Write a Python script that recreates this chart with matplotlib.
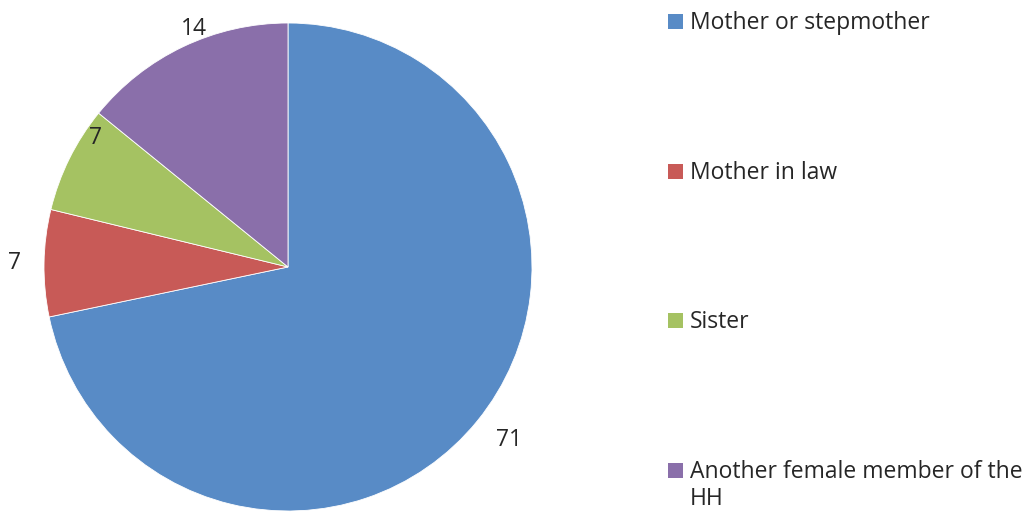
import numpy as np
import matplotlib
matplotlib.use("Agg")
import matplotlib.pyplot as plt
from matplotlib.patches import Rectangle

# data
categories = ["Mother or stepmother", "Mother in law", "Sister",
              "Another female member of the\nHH"]
values = [71, 7, 7, 14]
colors = ["#588BC6", "#C85A57", "#A5C262", "#8A6FAA"]

# Excel "best fit" label placement: radial factor and angle nudge per slice
label_radius = [1.15, 1.12, 0.95, 1.05]
label_nudge = [1.0, 0.0, -7.5, -3.8]

plt.rcParams["font.family"] = ["Open Sans", "DejaVu Sans"]
W, H = 1028, 512
fig = plt.figure(figsize=(W / 100, H / 100), dpi=100)

cx, cy, r = 288, 267, 244
ax = fig.add_axes([(cx - r) / W, (H - cy - r) / H, 2 * r / W, 2 * r / H])
wedges, _ = ax.pie(values, colors=colors, startangle=90, counterclock=False,
                   radius=1.0, wedgeprops=dict(linewidth=0.6, edgecolor="white"))
ax.set_xlim(-1, 1)
ax.set_ylim(-1, 1)
ax.set_aspect("equal")

for w, v, f, d in zip(wedges, values, label_radius, label_nudge):
    ang = np.deg2rad((w.theta1 + w.theta2) / 2 + d)
    ax.text(f * np.cos(ang), f * np.sin(ang), str(v), fontsize=16.5,
            color="#262626", ha="center", va="center")

# legend drawn by hand so the markers sit on the first text line
row0, step = 29, 149.7
for i, (lab, c) in enumerate(zip(categories, colors)):
    base = row0 + i * step
    fig.add_artist(Rectangle((668 / W, 1 - (base) / H), 15 / W, 15 / H,
                             transform=fig.transFigure, facecolor=c,
                             edgecolor="none"))
    fig.text(690 / W, 1 - base / H, lab.split("\n")[0], fontsize=16.5,
             color="#262626", ha="left", va="baseline")
    for j, extra in enumerate(lab.split("\n")[1:], start=1):
        fig.text(690 / W, 1 - (base + 26.5 * j) / H, extra, fontsize=16.5,
                 color="#262626", ha="left", va="baseline")

fig.savefig("out.png", dpi=100)
